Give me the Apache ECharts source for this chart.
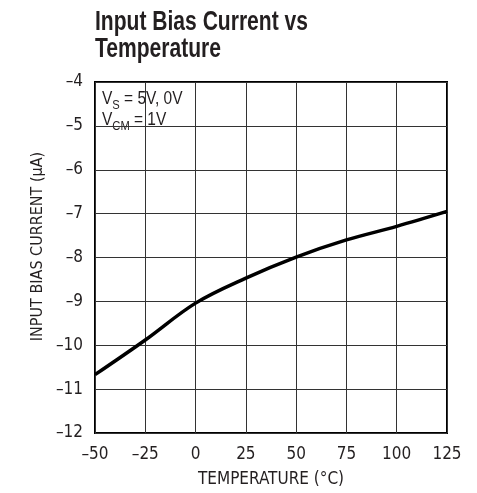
<!DOCTYPE html>
<html>
<head>
<meta charset="utf-8">
<script src="https://cdn.jsdelivr.net/npm/echarts@6/dist/echarts.min.js"></script>
<style>html,body{margin:0;padding:0;background:#fff}#c{width:477px;height:493px}</style>
</head>
<body>
<div id="c"></div>
<script>
var temperatures = [-50, -25, 0, 25, 50, 75, 100, 125];
var biasCurrent = [-10.67, -9.88, -9.04, -8.47, -7.99, -7.60, -7.29, -6.95];
var titleLines = ['Input Bias Current vs', 'Temperature'];
var xName = 'TEMPERATURE (°C)';
var yName = 'INPUT BIAS CURRENT (µA)';
var noteLines = ['V{sub|S} = 5V, 0V', 'V{sub|CM} = 1V'];

var FONT = "'DejaVu Sans Condensed', 'Liberation Sans', sans-serif";
var HFONT = "'Liberation Sans', Arial, sans-serif";
var INK = '#231f20';
var dash = function (v) { return String(v).replace('-', '\u2013'); };
var chart = echarts.init(document.getElementById('c'), null, {renderer: 'canvas'});
var option = {
  backgroundColor: '#fff',
  animation: false,
  grid: {left: 95, right: 30, top: 82, bottom: 60, show: true, borderColor: '#000', borderWidth: 2},
  xAxis: {
    type: 'value', min: -50, max: 125, interval: 25,
    name: xName, nameLocation: 'middle', nameGap: 38,
    nameTextStyle: {fontFamily: FONT, fontSize: 17, color: INK},
    axisLine: {show: false}, axisTick: {show: false},
    axisLabel: {fontFamily: FONT, fontSize: 17, color: INK, margin: 13, formatter: dash},
    splitLine: {show: true, lineStyle: {color: '#333', width: 1}}
  },
  yAxis: {
    type: 'value', min: -12, max: -4, interval: 1,
    axisLine: {show: false}, axisTick: {show: false},
    axisLabel: {fontFamily: FONT, fontSize: 17, color: INK, margin: 12, formatter: dash},
    splitLine: {show: true, lineStyle: {color: '#333', width: 1}}
  },
  series: [{
    type: 'line', data: temperatures.map(function (t, i) { return [t, biasCurrent[i]]; }),
    smooth: 0.35, showSymbol: false, lineStyle: {color: '#000', width: 3.5}, z: 5
  }],
  graphic: [
    {type: 'text', x: 95, y: 9, scaleX: 0.78, z: 10, style: {
      text: titleLines.join('\n'), font: 'bold 27px ' + HFONT, fill: INK, lineHeight: 27,
      align: 'left', verticalAlign: 'top'}},
    {type: 'text', x: 37.5, y: 246.5, rotation: Math.PI / 2, z: 10, style: {
      text: yName, font: '16px ' + FONT, fill: INK, align: 'center', verticalAlign: 'middle'}},
    {type: 'group', x: 97, y: 84, z: 10, children: [
      {type: 'rect', shape: {x: 0, y: 0, width: 94, height: 47}, style: {fill: '#fff'}},
      {type: 'text', x: 5, y: 5, scaleX: 0.86, style: {
        text: noteLines.join('\n'), font: '18px ' + HFONT, fill: INK, lineHeight: 21,
        rich: {sub: {fontSize: 13, fontFamily: HFONT, fill: INK, padding: [11, 0, 0, 0]}}
      }}
    ]}
  ]
};
chart.setOption(option);
</script>
</body>
</html>
